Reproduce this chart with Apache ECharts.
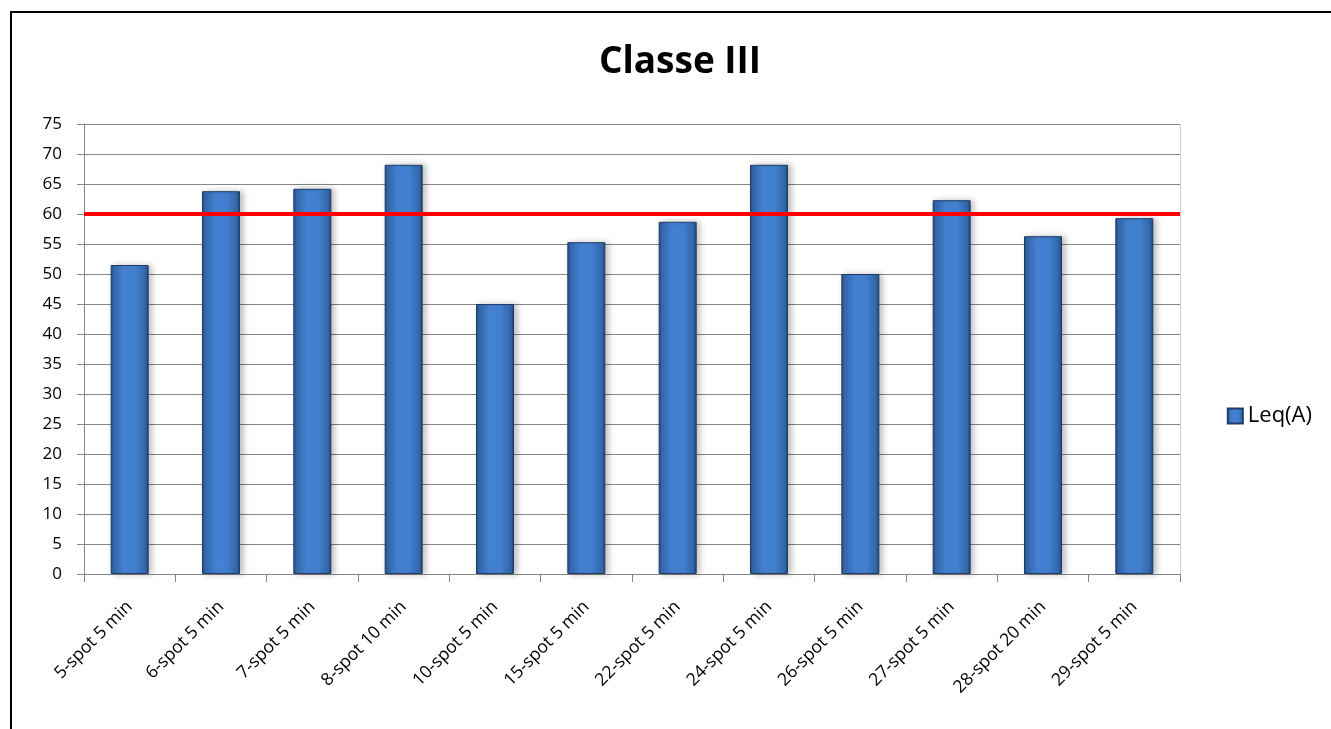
<!DOCTYPE html>
<html>
<head>
<meta charset="utf-8">
<script src="https://cdn.jsdelivr.net/npm/echarts@6/dist/echarts.min.js"></script>
<style>
html,body{margin:0;padding:0;background:#fff;}
#c{width:1331px;height:729px;}
</style>
</head>
<body>
<div id="c"></div>
<script>
const categories = ['5-spot 5 min','6-spot 5 min','7-spot 5 min','8-spot 10 min','10-spot 5 min','15-spot 5 min','22-spot 5 min','24-spot 5 min','26-spot 5 min','27-spot 5 min','28-spot 20 min','29-spot 5 min'];
const leqValues = [51.5, 63.8, 64.2, 68.2, 45.0, 55.3, 58.7, 68.2, 50.0, 62.3, 56.3, 59.3];
const limitValue = 60;
const seriesName = 'Leq(A)';
const titleText = 'Classe III';

const chart = echarts.init(document.getElementById('c'));
const barGrad = new echarts.graphic.LinearGradient(0,0,1,0,[
  {offset:0, color:'#24497c'},
  {offset:0.08, color:'#3569ad'},
  {offset:0.35, color:'#4481d1'},
  {offset:0.65, color:'#4280cf'},
  {offset:0.92, color:'#3366a8'},
  {offset:1, color:'#1f3f6d'}
]);
chart.setOption({
  backgroundColor:'#fff',
  animation:false,
  title:{text:titleText,left:675,top:39,textAlign:'center',
    textStyle:{fontFamily:'Open Sans',fontWeight:'bold',fontSize:37,color:'#000'}},
  legend:{right:14,top:400,orient:'vertical',itemWidth:15,itemHeight:15,itemGap:8,
    data:[{name:seriesName,icon:'rect'}],
    textStyle:{fontFamily:'Open Sans',fontSize:22,color:'#000'}},
  grid:{left:84,right:151,top:124,bottom:155,containLabel:false},
  xAxis:{type:'category',data:categories,
    axisLine:{lineStyle:{color:'#868686',width:1}},
    axisTick:{show:true,alignWithLabel:false,length:8,lineStyle:{color:'#868686'}},
    axisLabel:{rotate:45,interval:0,margin:30,fontFamily:'Open Sans',fontSize:17.5,color:'#000'}},
  yAxis:{type:'value',min:0,max:75,interval:5,
    axisLine:{show:true,lineStyle:{color:'#868686'}},
    axisTick:{show:true,length:7,lineStyle:{color:'#868686'}},
    axisLabel:{margin:22,fontFamily:'Open Sans',fontSize:17,color:'#000'},
    splitLine:{lineStyle:{color:'#868686',width:1}}},
  series:[{
    name:seriesName,type:'bar',data:leqValues,barWidth:38,
    itemStyle:{color:barGrad,borderColor:'#1e3c68',borderWidth:1,
      shadowColor:'rgba(0,0,0,0.25)',shadowBlur:6,shadowOffsetX:3,shadowOffsetY:0},
    markLine:{silent:true,symbol:'none',label:{show:false},
      lineStyle:{color:'#ff0000',width:4,type:'solid'},
      data:[{yAxis:limitValue}]}
  }],
  graphic:[
    {type:'line',shape:{x1:11,y1:12,x2:1331,y2:12},style:{stroke:'#000',lineWidth:2}},
    {type:'line',shape:{x1:11,y1:11,x2:11,y2:729},style:{stroke:'#000',lineWidth:2}},
    {type:'line',shape:{x1:1180.5,y1:124,x2:1180.5,y2:574},style:{stroke:'#d0d0d0',lineWidth:1}}
  ]
});
</script>
</body>
</html>
